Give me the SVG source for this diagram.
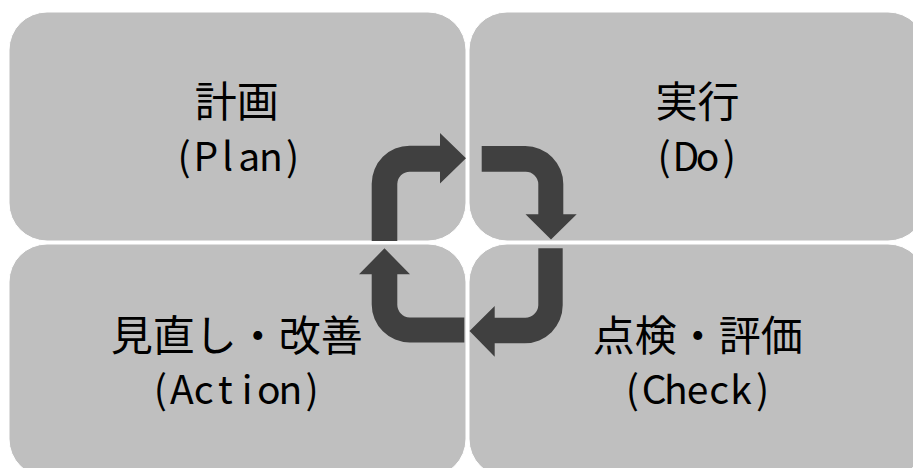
<svg xmlns="http://www.w3.org/2000/svg" width="913" height="468" viewBox="0 0 913 468">
  <style>
    .box { fill: #bfbfbf; stroke: #ffffff; stroke-width: 1; }
    .jp { font-family: "Noto Sans CJK JP", "Noto Sans", sans-serif; font-size: 42px; fill: #000000; text-anchor: middle; }
    .lat { font-family: "Noto Sans CJK JP", "Noto Sans", sans-serif; font-size: 39px; fill: #000000; text-anchor: middle; }
    .arrow { fill: #404040; stroke: none; }
  </style>
  <rect width="913" height="468" fill="#ffffff"/>
  <g id="node-plan">
    <rect class="box" x="9" y="12" width="457" height="229" rx="38" ry="38"/>
    <text class="jp" x="236.7" y="116.5">計画</text>
    <text class="lat" x="184.1 205.8 227.5 249.2 270.9 292.6" y="170.5">(Plan)</text>
  </g>
  <g id="node-do">
    <rect class="box" x="469" y="12" width="457" height="229" rx="38" ry="38"/>
    <text class="jp" x="697.5" y="116.5">実行</text>
    <text class="lat" x="664.1 685.8 707.6 729.3" y="170.5">(Do)</text>
  </g>
  <g id="node-action">
    <rect class="box" x="9" y="244" width="457" height="233" rx="38" ry="38"/>
    <text class="jp" x="236.7" y="351.3">見直し・改善</text>
    <text class="lat" x="160.3 181.9 203.7 225.4 247.1 268.8 290.5 312.2" y="404">(Action)</text>
  </g>
  <g id="node-check">
    <rect class="box" x="469" y="244" width="457" height="233" rx="38" ry="38"/>
    <text class="jp" x="697.8" y="351.3">点検・評価</text>
    <text class="lat" x="632.4 654.1 675.8 697.5 719.2 740.9 762.6" y="404">(Check)</text>
  </g>
  <g id="connectors">
    <path class="arrow" d="M371.7,241 V183.7 A38,38 0 0 1 409.7,145.7 H440 V133 L466,158.3 L440,183.5 V171.7 H409.7 A12.4,12.4 0 0 0 397.3,184 V241 Z"/>
    <path class="arrow" d="M481.7,146 H525.3 A38,38 0 0 1 563.3,184 V214.3 H576.7 L551,239.5 L525.5,214.3 H538.3 V184 A12.6,12.6 0 0 0 525.3,171.7 H481.7 Z"/>
    <path class="arrow" d="M562.7,248.3 V305.3 A38,38 0 0 1 524.7,343.3 H494.7 V356.7 L469.5,331 L494.7,306 V317.7 H524.7 A13,13 0 0 0 538.3,305.3 V248.3 Z"/>
    <path class="arrow" d="M464.3,342.5 H409.7 A38,38 0 0 1 371.7,304.5 V274.3 H359 L384.5,248.3 L410,274.3 H397.3 V304.5 A12.7,12.7 0 0 0 409.7,317.5 H464.3 Z"/>
  </g>
</svg>
